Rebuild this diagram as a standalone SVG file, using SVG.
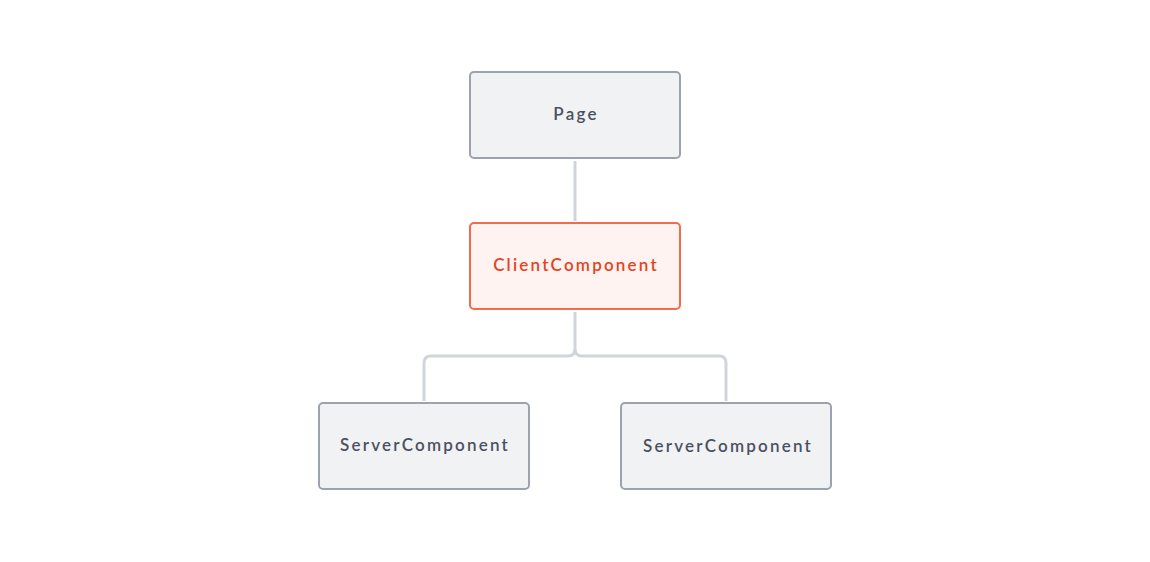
<svg xmlns="http://www.w3.org/2000/svg" width="1150" height="562" viewBox="0 0 1150 562">
<style>
.box{fill:#f1f2f4;stroke:#9ca3af;stroke-width:2}
.client{fill:#fef3f0;stroke:#f26b4c;stroke-width:2}
.lbl{font-family:Lato,"Noto Sans",sans-serif;font-size:17px;font-weight:600;letter-spacing:2.2px;fill:#4b5060;text-anchor:middle;dominant-baseline:central}
.clbl{fill:#e5431f}
.conn{fill:none;stroke:#d1d5db;stroke-width:3}
</style>
<rect width="1150" height="562" fill="#ffffff"/>
<g id="connectors">
<path class="conn" d="M575 161V221"/>
<path class="conn" d="M575 312V349Q575 356 568 356H431Q424 356 424 363V401"/>
<path class="conn" d="M575 349Q575 356 582 356H719Q726 356 726 363V401"/>
</g>
<g id="page">
<rect class="box" x="470" y="72" width="210" height="86" rx="4"/>
<text class="lbl" x="576" y="113">Page</text>
</g>
<g id="client">
<rect class="client" x="470" y="223" width="210" height="86" rx="4"/>
<text class="lbl clbl" x="576" y="264">ClientComponent</text>
</g>
<g id="server1">
<rect class="box" x="319" y="403" width="210" height="86" rx="4"/>
<text class="lbl" x="425" y="444">ServerComponent</text>
</g>
<g id="server2">
<rect class="box" x="621" y="403" width="210" height="86" rx="4"/>
<text class="lbl" x="728" y="445">ServerComponent</text>
</g>
</svg>
